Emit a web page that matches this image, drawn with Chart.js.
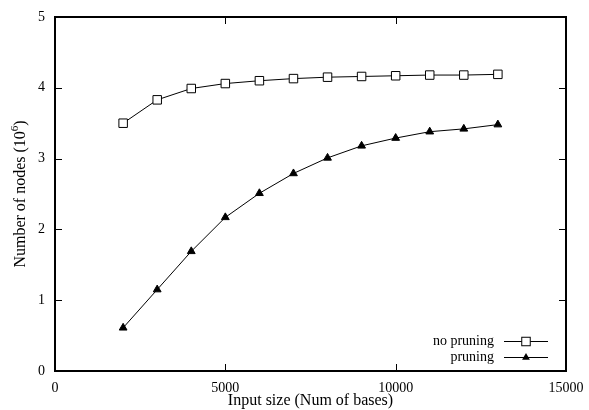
<!DOCTYPE html>
<html>
<head>
<meta charset="utf-8">
<script src="https://cdn.jsdelivr.net/npm/chart.js@4/dist/chart.umd.min.js"></script>
<style>
html,body{margin:0;padding:0;background:#fff;}
#wrap{width:589px;height:410px;}
</style>
</head>
<body>
<div id="wrap"><canvas id="c" width="589" height="410"></canvas></div>
<script>
const inputSizes = [2000, 3000, 4000, 5000, 6000, 7000, 8000, 9000, 10000, 11000, 12000, 13000];
const noPruning = [3.50, 3.83, 3.99, 4.06, 4.10, 4.13, 4.15, 4.16, 4.17, 4.18, 4.18, 4.19];
const pruning = [0.61, 1.15, 1.69, 2.17, 2.51, 2.79, 3.01, 3.18, 3.29, 3.38, 3.42, 3.48];
const xTicks = [0, 5000, 10000, 15000];
const yTicks = [0, 1, 2, 3, 4, 5];
const seriesLabels = ['no pruning', 'pruning'];
const xTitle = 'Input size (Num of bases)';
const yTitleMain = 'Number of nodes (10';
const yTitleSup = '6';
const yTitleEnd = ')';

const FONT = '"Liberation Serif", "Times New Roman", serif';

function pts(ys) { return inputSizes.map((x, i) => ({ x: x, y: ys[i] })); }

const framePlugin = {
  id: 'frame',
  afterDraw(chart) {
    const ctx = chart.ctx;
    const a = chart.chartArea;
    const xs = chart.scales.x, ys = chart.scales.y;
    ctx.save();
    ctx.strokeStyle = '#000';
    ctx.lineWidth = 1;
    const tl = 7;
    ctx.beginPath();
    xTicks.forEach(v => {
      const px = Math.round(xs.getPixelForValue(v)) + 0.5;
      ctx.moveTo(px, a.bottom); ctx.lineTo(px, a.bottom - tl);
      ctx.moveTo(px, a.top); ctx.lineTo(px, a.top + tl);
    });
    yTicks.forEach(v => {
      const py = Math.round(ys.getPixelForValue(v)) + 0.5;
      ctx.moveTo(a.left, py); ctx.lineTo(a.left + tl, py);
      ctx.moveTo(a.right, py); ctx.lineTo(a.right - tl, py);
    });
    ctx.stroke();
    ctx.lineWidth = 2;
    ctx.strokeRect(a.left, a.top, a.right - a.left, a.bottom - a.top);

    ctx.fillStyle = '#000';
    ctx.font = '16px ' + FONT;
    ctx.textAlign = 'center';
    ctx.textBaseline = 'middle';
    ctx.fillText(xTitle, (a.left + a.right) / 2, 401);

    ctx.save();
    ctx.translate(21, (a.top + a.bottom) / 2);
    ctx.rotate(-Math.PI / 2);
    ctx.textBaseline = 'middle';
    ctx.textAlign = 'left';
    ctx.font = '16px ' + FONT;
    const w1 = ctx.measureText(yTitleMain).width;
    const w3 = ctx.measureText(yTitleEnd).width;
    ctx.font = '11px ' + FONT;
    const w2 = ctx.measureText(yTitleSup).width;
    const total = w1 + w2 + w3;
    const x0 = -total / 2;
    ctx.font = '16px ' + FONT;
    ctx.fillText(yTitleMain, x0, 0);
    ctx.font = '11px ' + FONT;
    ctx.fillText(yTitleSup, x0 + w1, -6);
    ctx.font = '16px ' + FONT;
    ctx.fillText(yTitleEnd, x0 + w1 + w2, 0);
    ctx.restore();

    ctx.font = '14px ' + FONT;
    ctx.textAlign = 'right';
    ctx.textBaseline = 'middle';
    const rows = [341, 357];
    chart.data.datasets.forEach((ds, i) => {
      const y = rows[i];
      const cy = y + 0.5;
      ctx.fillStyle = '#000';
      ctx.fillText(seriesLabels[i], 494, y);
      ctx.strokeStyle = '#000';
      ctx.lineWidth = 1;
      ctx.beginPath();
      ctx.moveTo(504, cy); ctx.lineTo(548, cy);
      ctx.stroke();
      if (ds.pointStyle === 'rect') {
        ctx.fillStyle = '#fff';
        const s = Math.SQRT1_2 * ds.pointRadius;
        ctx.fillRect(526 - s, cy - s, 2 * s, 2 * s);
        ctx.strokeRect(526 - s, cy - s, 2 * s, 2 * s);
      } else {
        ctx.fillStyle = '#000';
        ctx.beginPath();
        const r = ds.pointRadius;
        ctx.moveTo(526, cy - r);
        ctx.lineTo(526 + r * Math.sin(Math.PI / 3), cy + r / 2);
        ctx.lineTo(526 - r * Math.sin(Math.PI / 3), cy + r / 2);
        ctx.closePath();
        ctx.fill();
      }
    });
    ctx.restore();
  }
};

new Chart(document.getElementById('c'), {
  type: 'line',
  data: {
    datasets: [
      {
        label: seriesLabels[0],
        data: pts(noPruning),
        borderColor: '#000',
        borderWidth: 1,
        pointStyle: 'rect',
        pointRadius: 6,
        pointBorderWidth: 1,
        pointBorderColor: '#000',
        pointBackgroundColor: '#fff',
        fill: false,
        tension: 0
      },
      {
        label: seriesLabels[1],
        data: pts(pruning),
        borderColor: '#000',
        borderWidth: 1,
        pointStyle: 'triangle',
        pointRadius: 4.5,
        pointBorderWidth: 1,
        pointBorderColor: '#000',
        pointBackgroundColor: '#000',
        fill: false,
        tension: 0
      }
    ]
  },
  options: {
    responsive: false,
    animation: false,
    devicePixelRatio: 1,
    layout: { padding: { top: 17, right: 23, left: 0, bottom: 0 } },
    plugins: { legend: { display: false }, tooltip: { enabled: false }, title: { display: false } },
    scales: {
      x: {
        type: 'linear',
        min: 0, max: 15000,
        afterFit(s) { s.height = 39; },
        afterBuildTicks(s) { s.ticks = xTicks.map(v => ({ value: v })); },
        grid: { display: false },
        border: { display: false },
        ticks: { padding: 1, color: '#000', font: { family: FONT, size: 14 }, maxRotation: 0, autoSkip: false, callback: v => String(v) }
      },
      y: {
        type: 'linear',
        min: 0, max: 5,
        afterFit(s) { s.width = 55; },
        afterBuildTicks(s) { s.ticks = yTicks.map(v => ({ value: v })); },
        grid: { display: false },
        border: { display: false },
        ticks: { padding: 2, color: '#000', font: { family: FONT, size: 14 }, callback: v => String(v) }
      }
    }
  },
  plugins: [framePlugin]
});
</script>
</body>
</html>
